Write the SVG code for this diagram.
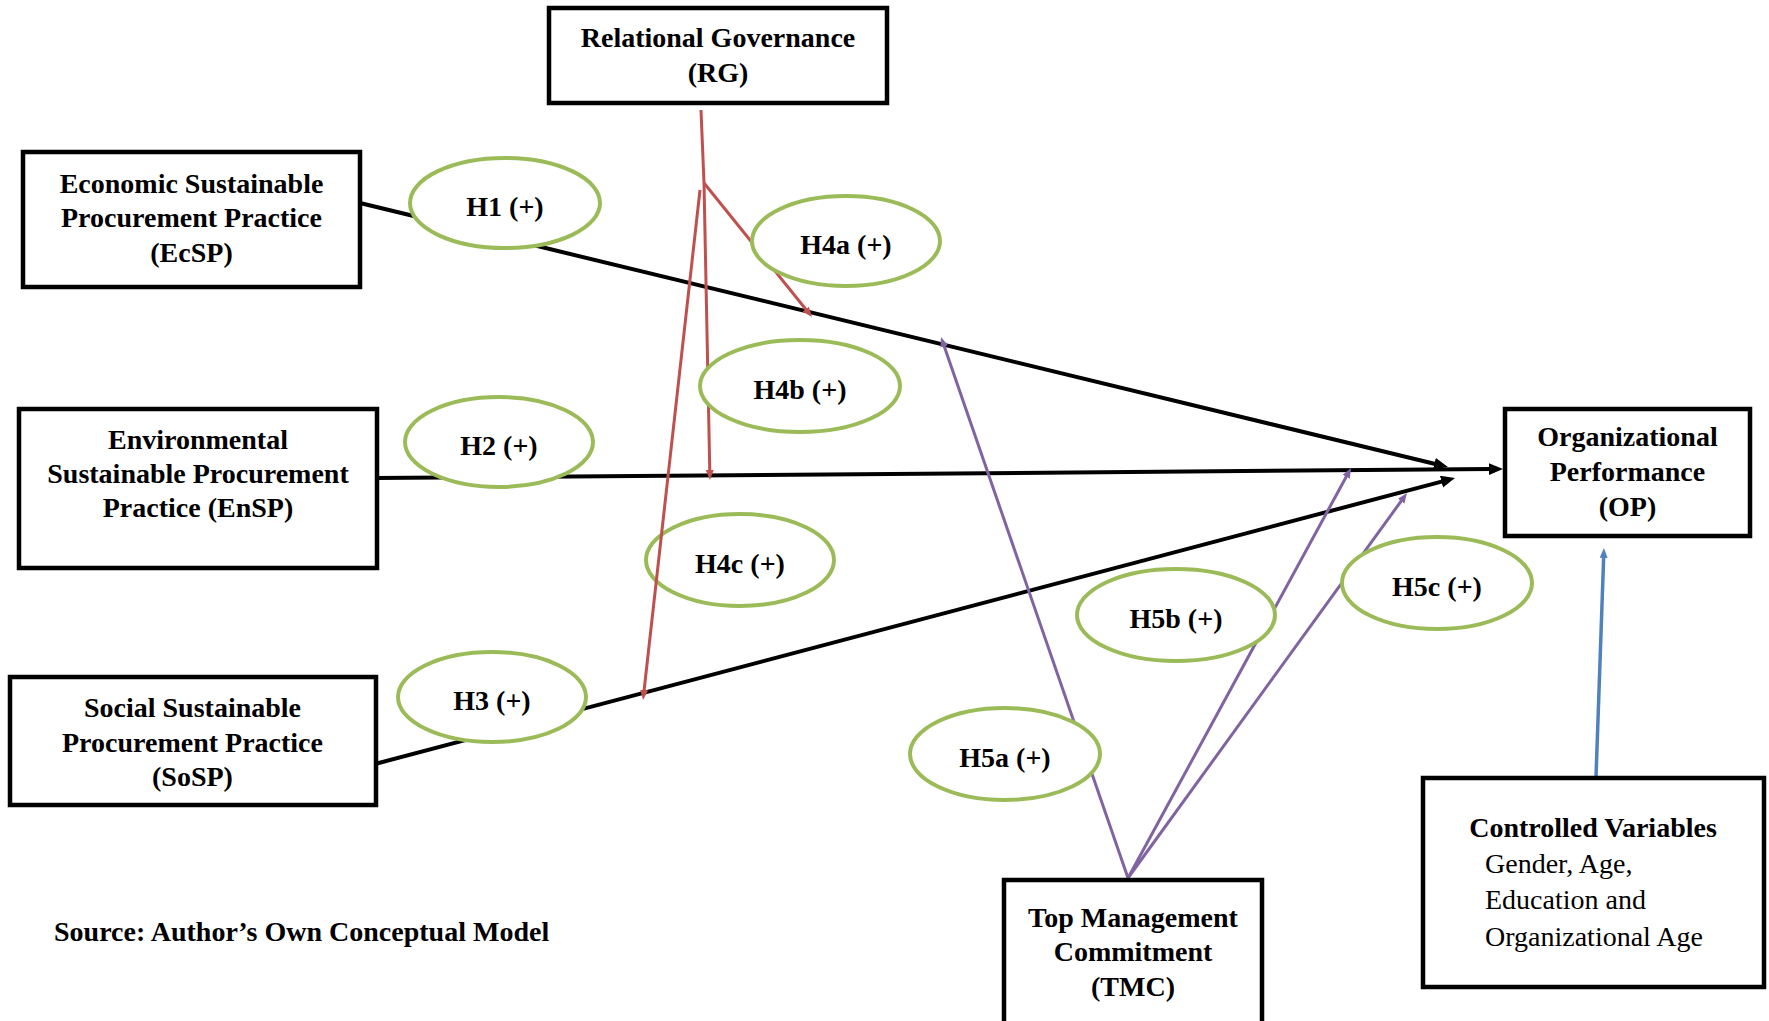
<svg xmlns="http://www.w3.org/2000/svg" width="1769" height="1021" viewBox="0 0 1769 1021">
  <style>
    .box { fill: #ffffff; stroke: #000000; stroke-width: 4.5; }
    .hyp { fill: #ffffff; stroke: #9BBB59; stroke-width: 4; }
    .lbl { font-family: "Liberation Serif", "Times New Roman", serif; font-size: 28px; font-weight: bold; fill: #000000; text-anchor: middle; }
    .plain { font-family: "Liberation Serif", "Times New Roman", serif; font-size: 28px; fill: #000000; }
    .main { fill: none; stroke: #000000; stroke-width: 4; }
    .mod-rg { fill: none; stroke: #C0504D; stroke-width: 3; }
    .mod-tmc { fill: none; stroke: #8064A2; stroke-width: 3; }
    .ctrl { fill: none; stroke: #4F81BD; stroke-width: 3.5; }
  </style>
  <defs>
    <marker id="arrow-black" markerUnits="userSpaceOnUse" markerWidth="16" markerHeight="14" refX="2" refY="6" orient="auto">
      <path d="M0,0 L14,6 L0,12 z" fill="#000000"/>
    </marker>
    <marker id="arrow-red" markerUnits="userSpaceOnUse" markerWidth="12" markerHeight="10" refX="2" refY="4" orient="auto">
      <path d="M0,0 L10,4 L0,8 z" fill="#C0504D"/>
    </marker>
    <marker id="arrow-purple" markerUnits="userSpaceOnUse" markerWidth="12" markerHeight="10" refX="2" refY="4" orient="auto">
      <path d="M0,0 L10,4 L0,8 z" fill="#8064A2"/>
    </marker>
    <marker id="arrow-blue" markerUnits="userSpaceOnUse" markerWidth="12" markerHeight="10" refX="2" refY="4" orient="auto">
      <path d="M0,0 L10,4 L0,8 z" fill="#4F81BD"/>
    </marker>
  </defs>

  <rect width="1769" height="1021" fill="#ffffff"/>

  <!-- H4c sits beneath the moderation lines -->
  <g id="hyp-h4c">
    <ellipse class="hyp" cx="740" cy="560" rx="94" ry="46"/>
    <text class="lbl" x="740" y="573">H4c (+)</text>
  </g>

  <!-- connectors -->
  <g id="connectors">
    <!-- direct effects -->
    <path class="main" d="M360,203 L1436.3,464.2" marker-end="url(#arrow-black)"/>
    <path class="main" d="M376,478 L1491,469.1" marker-end="url(#arrow-black)"/>
    <path class="main" d="M375,764 L1443.4,481.1" marker-end="url(#arrow-black)"/>
    <!-- relational governance moderation -->
    <path class="mod-rg" d="M701,110 L704,183"/>
    <path class="mod-rg" d="M704,183 L807,310.8" marker-end="url(#arrow-red)"/>
    <path class="mod-rg" d="M704,183 L709.8,472" marker-end="url(#arrow-red)"/>
    <path class="mod-rg" d="M700,190 L643.9,692" marker-end="url(#arrow-red)"/>
    <!-- top management commitment moderation -->
    <path class="mod-tmc" d="M1128,878 L943.6,344.6" marker-end="url(#arrow-purple)"/>
    <path class="mod-tmc" d="M1128,878 L1347.2,475" marker-end="url(#arrow-purple)"/>
    <path class="mod-tmc" d="M1128,878 L1402.3,499.5" marker-end="url(#arrow-purple)"/>
    <!-- controls -->
    <path class="ctrl" d="M1596,777 L1603.7,556" marker-end="url(#arrow-blue)"/>
  </g>

  <!-- constructs -->
  <g id="node-rg">
    <rect class="box" x="549" y="8" width="338" height="95"/>
    <text class="lbl" x="718" y="47">Relational Governance</text>
    <text class="lbl" x="718" y="82">(RG)</text>
  </g>
  <g id="node-ecsp">
    <rect class="box" x="23" y="152" width="337" height="135"/>
    <text class="lbl" x="191.5" y="193">Economic Sustainable</text>
    <text class="lbl" x="191.5" y="227">Procurement Practice</text>
    <text class="lbl" x="191.5" y="262">(EcSP)</text>
  </g>
  <g id="node-ensp">
    <rect class="box" x="19" y="409" width="358" height="159"/>
    <text class="lbl" x="198" y="449">Environmental</text>
    <text class="lbl" x="198" y="483">Sustainable Procurement</text>
    <text class="lbl" x="198" y="517">Practice (EnSP)</text>
  </g>
  <g id="node-sosp">
    <rect class="box" x="10" y="677" width="366" height="128"/>
    <text class="lbl" x="192.5" y="717">Social Sustainable</text>
    <text class="lbl" x="192.5" y="752">Procurement Practice</text>
    <text class="lbl" x="192.5" y="786">(SoSP)</text>
  </g>
  <g id="node-op">
    <rect class="box" x="1505" y="409" width="245" height="127"/>
    <text class="lbl" x="1627.5" y="446">Organizational</text>
    <text class="lbl" x="1627.5" y="481">Performance</text>
    <text class="lbl" x="1627.5" y="516">(OP)</text>
  </g>
  <g id="node-tmc">
    <rect class="box" x="1004" y="880" width="258" height="145"/>
    <text class="lbl" x="1133" y="927">Top Management</text>
    <text class="lbl" x="1133" y="961">Commitment</text>
    <text class="lbl" x="1133" y="996">(TMC)</text>
  </g>
  <g id="node-controls">
    <rect class="box" x="1423" y="778" width="341" height="209"/>
    <text class="lbl" x="1593" y="837">Controlled Variables</text>
    <text class="plain" x="1485" y="873">Gender, Age,</text>
    <text class="plain" x="1485" y="909">Education and</text>
    <text class="plain" x="1485" y="946">Organizational Age</text>
  </g>

  <!-- hypothesis labels -->
  <g id="hyp-h1">
    <ellipse class="hyp" cx="505" cy="203" rx="95" ry="45"/>
    <text class="lbl" x="505" y="216">H1 (+)</text>
  </g>
  <g id="hyp-h2">
    <ellipse class="hyp" cx="499" cy="442" rx="94" ry="45"/>
    <text class="lbl" x="499" y="455">H2 (+)</text>
  </g>
  <g id="hyp-h3">
    <ellipse class="hyp" cx="492" cy="697" rx="94" ry="45"/>
    <text class="lbl" x="492" y="710">H3 (+)</text>
  </g>
  <g id="hyp-h4a">
    <ellipse class="hyp" cx="846" cy="241" rx="94" ry="45"/>
    <text class="lbl" x="846" y="254">H4a (+)</text>
  </g>
  <g id="hyp-h4b">
    <ellipse class="hyp" cx="800" cy="386" rx="100" ry="46"/>
    <text class="lbl" x="800" y="399">H4b (+)</text>
  </g>
  <g id="hyp-h5a">
    <ellipse class="hyp" cx="1005" cy="754" rx="95" ry="46"/>
    <text class="lbl" x="1005" y="767">H5a (+)</text>
  </g>
  <g id="hyp-h5b">
    <ellipse class="hyp" cx="1176" cy="615" rx="99" ry="46"/>
    <text class="lbl" x="1176" y="628">H5b (+)</text>
  </g>
  <g id="hyp-h5c">
    <ellipse class="hyp" cx="1437" cy="583" rx="95" ry="46"/>
    <text class="lbl" x="1437" y="596">H5c (+)</text>
  </g>

  <text class="lbl" x="54" y="941" style="text-anchor: start">Source: Author’s Own Conceptual Model</text>
</svg>
